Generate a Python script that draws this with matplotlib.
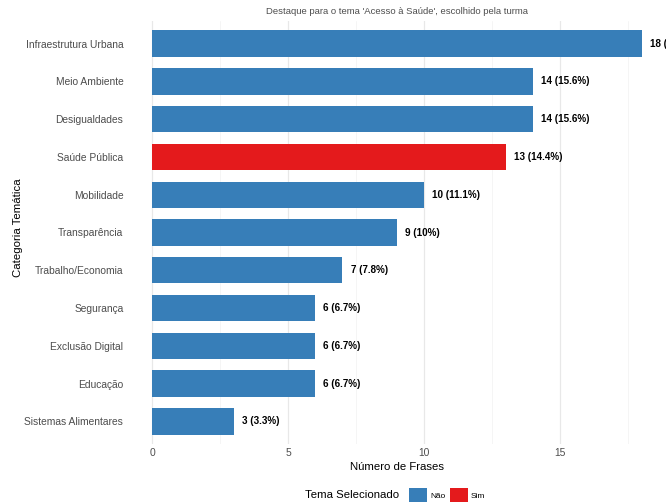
import matplotlib
matplotlib.use('Agg')
import matplotlib.pyplot as plt
from matplotlib.patches import Patch

plt.rcParams['font.family'] = ['Liberation Sans', 'DejaVu Sans']

# data, top to bottom as drawn
categorias = ['Infraestrutura Urbana', 'Meio Ambiente', 'Desigualdades', 'Saúde Pública',
              'Mobilidade', 'Transparência', 'Trabalho/Economia', 'Segurança',
              'Exclusão Digital', 'Educação', 'Sistemas Alimentares']
frases = [18, 14, 14, 13, 10, 9, 7, 6, 6, 6, 3]
rotulos = ['18 (20%)', '14 (15.6%)', '14 (15.6%)', '13 (14.4%)', '10 (11.1%)', '9 (10%)',
           '7 (7.8%)', '6 (6.7%)', '6 (6.7%)', '6 (6.7%)', '3 (3.3%)']
selecionado = ['Não', 'Não', 'Não', 'Sim', 'Não', 'Não', 'Não', 'Não', 'Não', 'Não', 'Não']

cores = {'Não': '#377EB8', 'Sim': '#E41A1C'}

W, H = 666, 503
fig = plt.figure(figsize=(W/100, H/100), dpi=100)

px = 27.2  # pixels per unit on x
x0 = -0.9
x1 = 18.9
ax = fig.add_axes([(152 + x0*px)/W, (H - 444)/H, (x1 - x0)*px/W, 423/H])

ypos = list(range(len(categorias)))
ax.barh(ypos, frases, height=0.7, color=[cores[s] for s in selecionado], zorder=3)
for y, v, lab in zip(ypos, frases, rotulos):
    ax.text(v + 0.3, y, lab, va='center', ha='left', fontsize=7.1,
            fontweight='bold', color='black', zorder=4, clip_on=False)

ax.set_xlim(x0, x1)
ax.set_ylim(len(categorias) - 0.4, -0.6)
ax.set_yticks(ypos)
ax.set_yticklabels(categorias)
ax.set_xticks([0, 5, 10, 15])
ax.set_xticks([2.5, 7.5, 12.5, 17.5], minor=True)
ax.tick_params(axis='both', which='both', length=0, labelsize=7.4, colors='#4D4D4D')
ax.tick_params(axis='x', pad=3)
ax.tick_params(axis='y', pad=3)
ax.grid(axis='x', which='major', color='#E8E8E8', linewidth=0.9, zorder=0)
ax.grid(axis='x', which='minor', color='#F2F2F2', linewidth=0.5, zorder=0)
for s in ax.spines.values():
    s.set_visible(False)

ax.set_xlabel('Número de Frases', fontsize=8.2, labelpad=3)
fig.text(18/W, 1 - 228/H, 'Categoria Temática', rotation=90, ha='center', va='center',
         fontsize=8.2)

fig.text(397/W, 1 - 11/H, "Destaque para o tema 'Acesso à Saúde', escolhido pela turma",
         ha='center', va='center', fontsize=6.8, color='#4D4D4D')
# title sits above the top edge, only its descenders show (as in the reference)
fig.text(397/W, 1 + 3/H, 'Frequência de Frases por Categoria Temática', ha='center',
         va='baseline', fontsize=10, fontweight='bold')

# legend at the bottom
fig.text(399/W, 1 - 495/H, 'Tema Selecionado', ha='right', va='center', fontsize=8.2)
handles = [Patch(facecolor=cores['Não'], label='Não'), Patch(facecolor=cores['Sim'], label='Sim')]
fig.legend(handles=handles, loc='center left', bbox_to_anchor=(405/W, 1 - 495/H), ncol=2,
           frameon=False, fontsize=6, handlelength=2.1, handleheight=2.1,
           handletextpad=0.4, columnspacing=0.6, borderpad=0)

fig.savefig('out.png', dpi=100)
